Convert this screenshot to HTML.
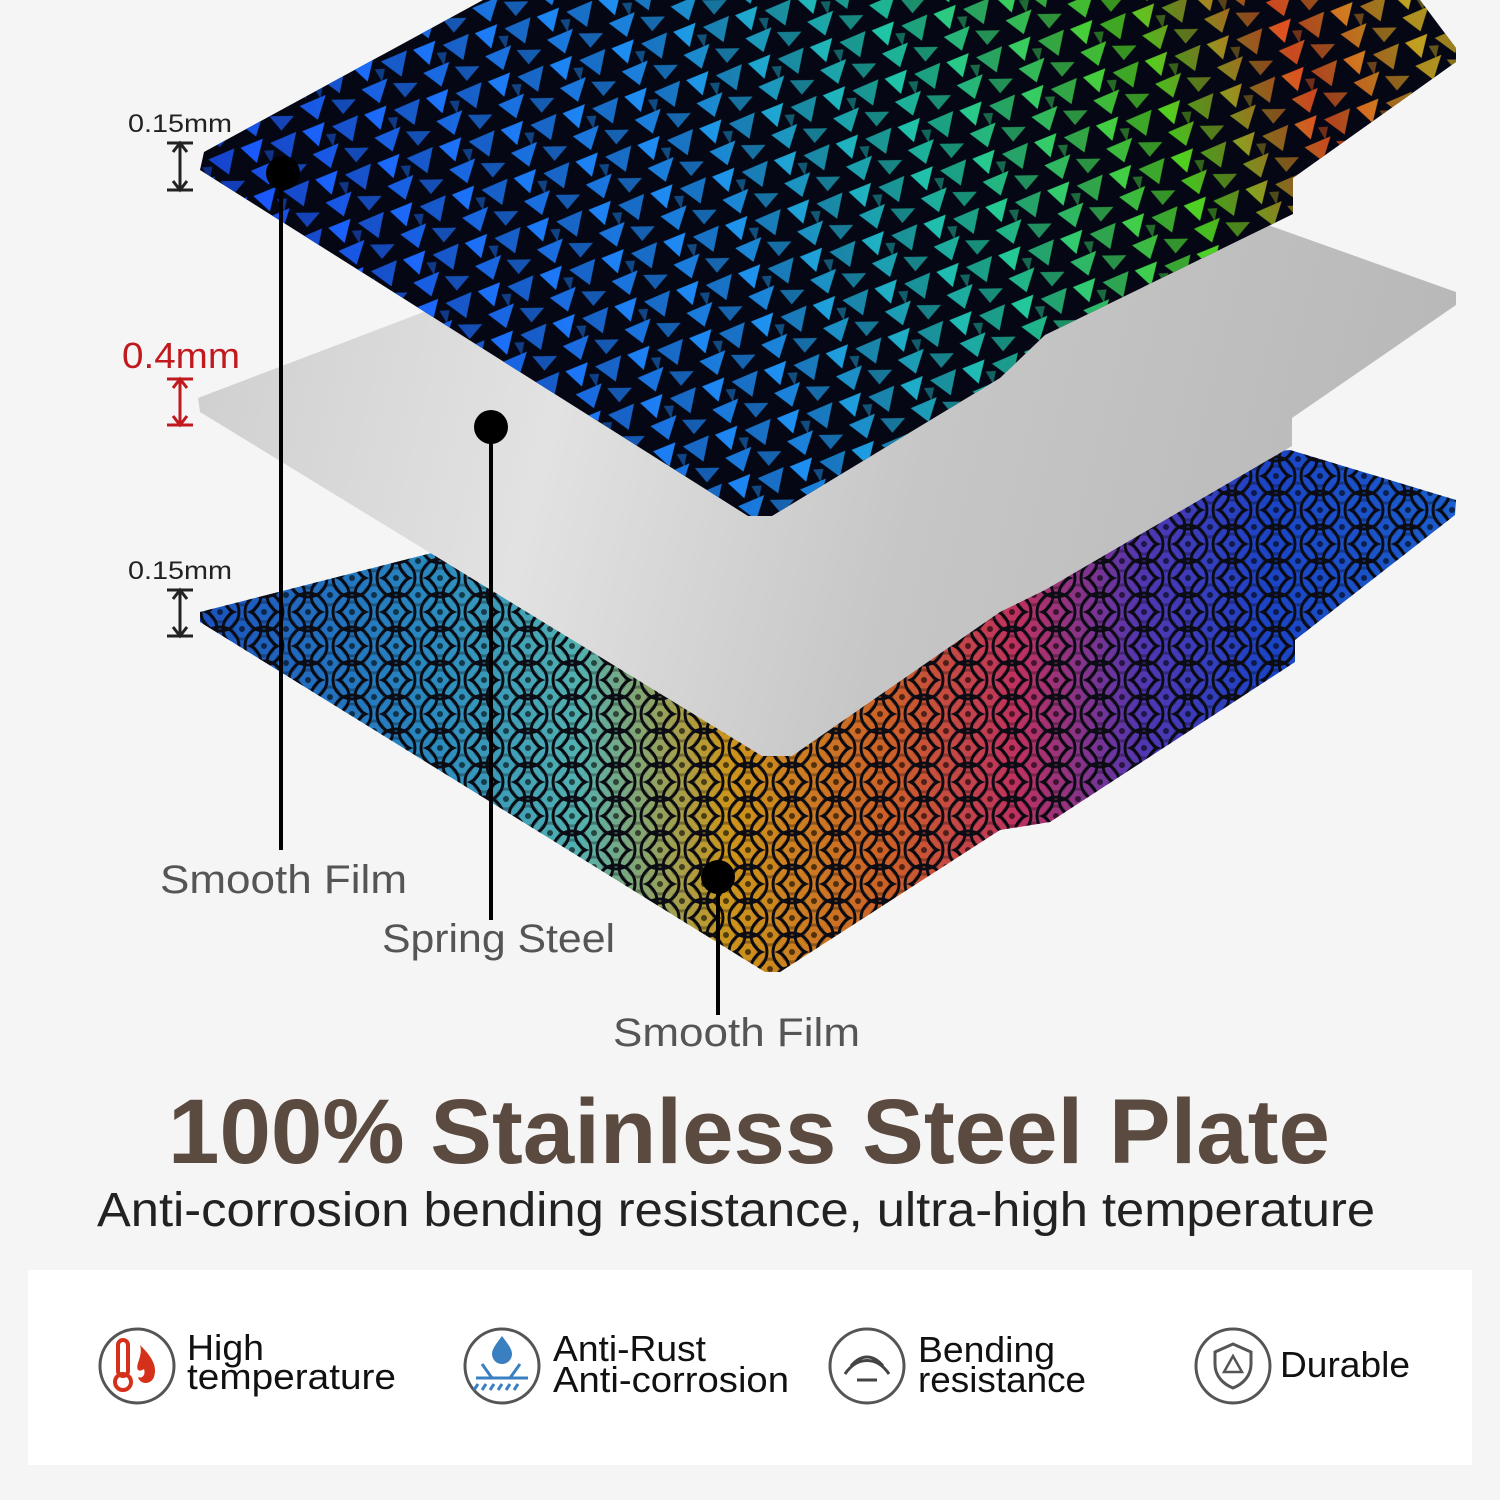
<!DOCTYPE html>
<html><head><meta charset="utf-8"><style>
html,body{margin:0;padding:0;background:#f5f5f5;}
svg{display:block}
text{font-family:"Liberation Sans","DejaVu Sans",sans-serif;}
</style></head><body>
<svg width="1500" height="1500" viewBox="0 0 1500 1500" xmlns="http://www.w3.org/2000/svg">
<defs>
<linearGradient id="topc" gradientUnits="userSpaceOnUse" x1="300" y1="450" x2="1400" y2="0">
<stop offset="0" stop-color="#1a50ff"/><stop offset="0.4" stop-color="#1e90f0"/><stop offset="0.6" stop-color="#20c8a0"/><stop offset="0.78" stop-color="#50d020"/><stop offset="0.9" stop-color="#e05020"/><stop offset="1" stop-color="#c0a020"/>
</linearGradient>
<pattern id="shards" width="64" height="50" patternUnits="userSpaceOnUse" patternTransform="rotate(-15)">
<polygon points="2,5 26,2 14,24" fill="#fff"/>
<polygon points="32,8 60,4 48,28" fill="#fff" opacity="0.8"/>
<polygon points="6,30 34,26 20,48" fill="#fff" opacity="0.9"/>
<polygon points="38,32 62,38 46,49" fill="#fff" opacity="0.7"/>
<polygon points="24,14 34,16 28,28" fill="#fff" opacity="0.5"/>
</pattern>
<mask id="shmask"><rect width="1500" height="600" fill="url(#shards)"/></mask>
<linearGradient id="steel" gradientUnits="userSpaceOnUse" x1="200" y1="300" x2="1400" y2="600">
<stop offset="0" stop-color="#cfcfcf"/><stop offset="0.3" stop-color="#e2e2e2"/><stop offset="0.6" stop-color="#c6c6c6"/><stop offset="1" stop-color="#b8b8b8"/>
</linearGradient>
<linearGradient id="botc" gradientUnits="userSpaceOnUse" x1="200" y1="0" x2="1456" y2="0">
<stop offset="0" stop-color="#2060e0"/><stop offset="0.18" stop-color="#30a0e0"/><stop offset="0.3" stop-color="#60d0d0"/><stop offset="0.42" stop-color="#f0b020"/><stop offset="0.55" stop-color="#f07030"/><stop offset="0.65" stop-color="#e03a70"/><stop offset="0.75" stop-color="#6040d0"/><stop offset="0.85" stop-color="#2050e8"/><stop offset="1" stop-color="#2070f0"/>
</linearGradient>
<pattern id="circ" width="44" height="34" patternUnits="userSpaceOnUse">
<g id="cc" fill="none"><circle cx="22" cy="17" r="19" stroke="#0c0c14" stroke-width="3"/><circle cx="22" cy="17" r="10" stroke="#000" stroke-opacity="0.3" stroke-width="3"/><circle cx="22" cy="17" r="3" fill="#000" fill-opacity="0.6"/></g>
<use href="#cc" x="-22" y="-17"/><use href="#cc" x="22" y="-17"/><use href="#cc" x="-22" y="17"/><use href="#cc" x="22" y="17"/>
</pattern>
<clipPath id="botclip"><polygon points="200,612 640,500 1290,450 1456,500 1455,515 1295,640 1295,662 1050,822 1000,830 780,972 765,972 200,622"/></clipPath>
<clipPath id="topclip"><polygon points="483,0 1420,0 1456,48 1456,62 1293,178 1293,214 1045,335 1000,378 772,516 748,516 200,170 204,152"/></clipPath>
</defs>
<rect width="1500" height="1500" fill="#f5f5f5"/>
<g clip-path="url(#botclip)">
<rect x="0" y="400" width="1500" height="600" fill="url(#botc)"/>
<rect x="0" y="400" width="1500" height="600" fill="#000" opacity="0.15"/>
<rect x="0" y="400" width="1500" height="600" fill="url(#circ)"/>
</g>
<polygon points="198,398 560,260 1240,215 1456,292 1456,305 1292,418 1292,446 1045,590 1000,612 792,756 762,756 200,412" fill="url(#steel)"/>
<g clip-path="url(#topclip)">
<rect x="0" y="0" width="1500" height="600" fill="#050814"/>
<rect x="0" y="0" width="1500" height="600" fill="url(#topc)" mask="url(#shmask)"/>
</g>
<g fill="#222" font-size="25"><text x="128" y="132" textLength="104" lengthAdjust="spacingAndGlyphs">0.15mm</text><text x="128" y="579" textLength="104" lengthAdjust="spacingAndGlyphs">0.15mm</text></g>
<text x="122" y="368" font-size="36" fill="#c0191e" textLength="118" lengthAdjust="spacingAndGlyphs">0.4mm</text>
<g stroke="#222" stroke-width="3" fill="none">
<path d="M167,143h26M167,190h26M180,143v47M173,152l7,-9l7,9M173,181l7,9l7,-9"/>
<path d="M167,590h26M167,636h26M180,590v46M173,599l7,-9l7,9M173,627l7,9l7,-9"/>
</g>
<g stroke="#c0191e" stroke-width="3" fill="none">
<path d="M167,379h26M167,425h26M180,379v46M173,388l7,-9l7,9M173,416l7,9l7,-9"/>
</g>
<g fill="#000"><circle cx="283" cy="173" r="17"/><circle cx="491" cy="427" r="17"/><circle cx="718" cy="877" r="17"/></g>
<g stroke="#000" stroke-width="4"><path d="M281,173V850M491,427V920M718,877V1015"/></g>
<g fill="#555" font-size="40">
<text x="160" y="893" textLength="247" lengthAdjust="spacingAndGlyphs">Smooth Film</text>
<text x="382" y="952" textLength="233" lengthAdjust="spacingAndGlyphs">Spring Steel</text>
<text x="613" y="1046" textLength="247" lengthAdjust="spacingAndGlyphs">Smooth Film</text></g>
<text x="749" y="1163" text-anchor="middle" font-size="92" font-weight="bold" fill="#5b4a40" textLength="1162" lengthAdjust="spacingAndGlyphs">100% Stainless Steel Plate</text>
<text x="736" y="1226" text-anchor="middle" font-size="48" fill="#222" textLength="1278" lengthAdjust="spacingAndGlyphs">Anti-corrosion bending resistance, ultra-high temperature</text>
<rect x="28" y="1270" width="1444" height="195" fill="#fff"/>
<g fill="none" stroke="#555" stroke-width="3">
<circle cx="137" cy="1366" r="37"/><circle cx="502" cy="1366" r="37"/><circle cx="867" cy="1366" r="37"/><circle cx="1233" cy="1366" r="37"/>
</g>
<g fill="none" stroke="#d4301a" stroke-width="4"><rect x="118" y="1340" width="10" height="36" rx="5"/><circle cx="123" cy="1382" r="8"/></g>
<path d="M140,1345c10,10 18,20 14,32c-3,8 -14,8 -16,0c4,2 8,-2 6,-8c-6,4 -8,0 -6,-6c2,-6 4,-12 2,-18z" fill="#d4301a"/>
<path d="M502,1336c-6,8 -10,13 -10,18a10,10 0 0 0 20,0c0,-5 -4,-10 -10,-18z" fill="#3a80c0"/>
<path d="M476,1378h52M478,1384l-4,6M486,1384l-4,6M494,1384l-4,6M502,1384l-4,6M510,1384l-4,6M518,1384l-4,6M492,1378l-10,-14M510,1378l10,-14" stroke="#3a80c0" stroke-width="3"/>
<path d="M845,1374c12,-18 32,-18 44,0M851,1366c10,-12 22,-12 32,0M857,1380h20" stroke="#444" stroke-width="3" fill="none"/>
<path d="M1233,1344l18,8v12c0,12 -8,20 -18,24c-10,-4 -18,-12 -18,-24v-12z" stroke="#555" stroke-width="3" fill="none"/>
<path d="M1233,1356l-9,16h18z" stroke="#555" stroke-width="2.5" fill="none"/>
<g fill="#111" font-size="36">
<text x="187" y="1360" textLength="77" lengthAdjust="spacingAndGlyphs">High</text><text x="187" y="1389" textLength="209" lengthAdjust="spacingAndGlyphs">temperature</text>
<text x="553" y="1361" textLength="153" lengthAdjust="spacingAndGlyphs">Anti-Rust</text><text x="553" y="1392" textLength="236" lengthAdjust="spacingAndGlyphs">Anti-corrosion</text>
<text x="918" y="1362" textLength="137" lengthAdjust="spacingAndGlyphs">Bending</text><text x="918" y="1392" textLength="168" lengthAdjust="spacingAndGlyphs">resistance</text>
<text x="1280" y="1377" textLength="130" lengthAdjust="spacingAndGlyphs">Durable</text>
</g>
</svg>
</body></html>
